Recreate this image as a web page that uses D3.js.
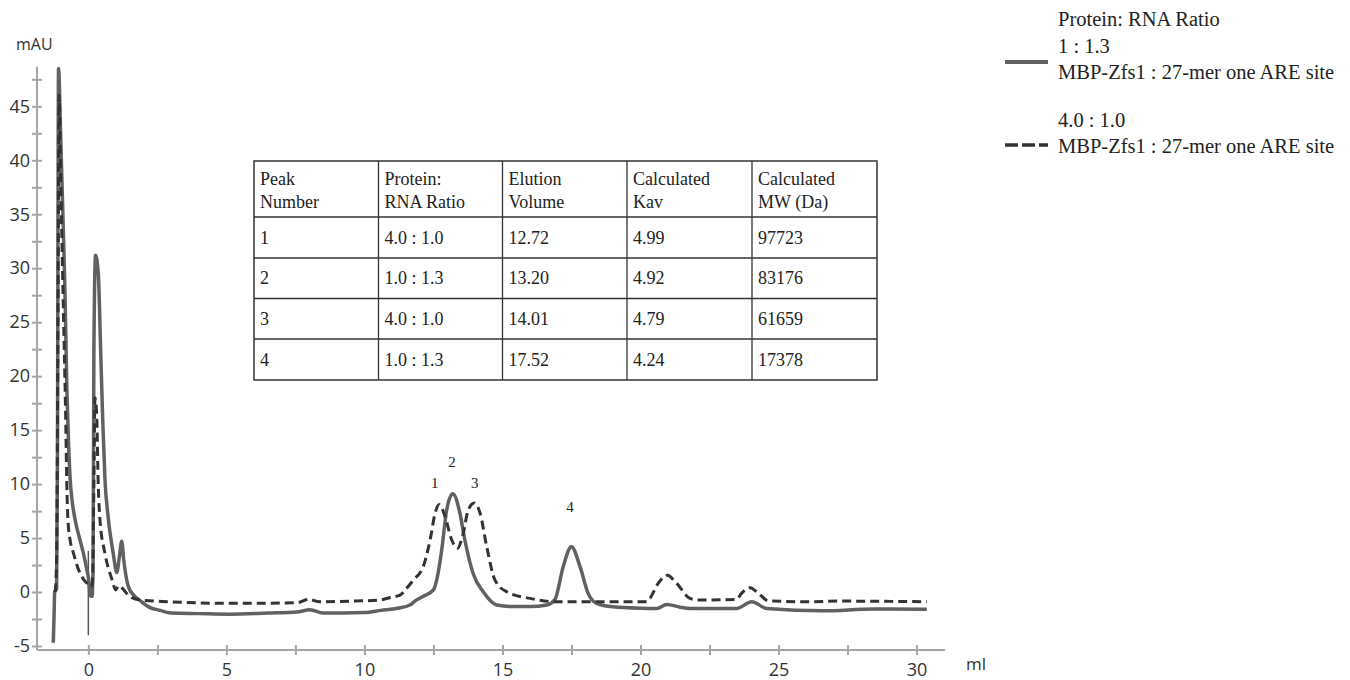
<!DOCTYPE html>
<html>
<head>
<meta charset="utf-8">
<script src="https://cdn.jsdelivr.net/npm/d3@7"></script>
<style>
  body { margin: 0; background: #fff; }
  svg { display: block; }
</style>
</head>
<body>
<svg id="chart" width="1350" height="680"></svg>
<script>
// ---------- DATA ----------
// Solid trace: 1 : 1.3  MBP-Zfs1 : 27-mer one ARE site  [ml, mAU]
const solidSeries = [
  [-1.27,-4.7],[-1.24,-2.0],[-1.22,0.0],[-1.15,0.3],[-1.12,12],[-1.08,48.5],[-1.0,42],
  [-0.9,33],[-0.84,27],[-0.78,19],[-0.72,14],[-0.66,10.5],[-0.58,8.3],[-0.48,6.7],[-0.3,4.8],
  [-0.18,3.6],[-0.05,2.0],[0.02,1.0],[0.06,-0.3],[0.13,-0.4],[0.17,2],[0.2,22],[0.26,31.2],
  [0.36,29.5],[0.45,22],[0.52,16],[0.6,10.5],[0.72,6.9],[0.9,3.6],[1.03,1.8],[1.12,3.2],
  [1.21,4.7],[1.28,3.0],[1.45,0.5],[1.65,-0.3],[1.93,-0.9],[2.2,-1.4],[2.6,-1.7],[3.0,-1.95],
  [4.0,-2.0],[5.1,-2.05],[6.5,-1.95],[7.55,-1.85],[8.03,-1.65],[8.5,-1.95],[10.0,-1.9],
  [10.6,-1.7],[11.2,-1.5],[11.65,-1.2],[11.85,-0.8],[12.13,-0.4],[12.5,0.2],[12.65,1.5],
  [12.8,3.9],[12.98,7.6],[13.2,9.1],[13.46,7.3],[13.64,4.8],[13.94,1.7],[14.31,0.0],
  [14.79,-1.2],[15.39,-1.35],[16.0,-1.35],[16.6,-1.2],[16.9,-0.7],[17.2,2.35],[17.5,4.2],
  [17.81,2.35],[18.1,-0.1],[18.41,-1.05],[19.0,-1.37],[20.0,-1.5],[20.59,-1.52],
  [20.95,-1.15],[21.43,-1.4],[21.8,-1.52],[23.48,-1.52],[24.03,-0.9],[24.57,-1.52],
  [26.62,-1.74],[28.43,-1.58],[30.37,-1.6]
];
// Dashed trace: 4.0 : 1.0  MBP-Zfs1 : 27-mer one ARE site  [ml, mAU]
const dashedSeries = [
  [-1.2,0.0],[-1.15,3],[-1.1,25],[-1.06,46],[-1.0,38],[-0.92,28],[-0.82,16],[-0.78,10],
  [-0.74,6.7],[-0.66,4.8],[-0.54,3.6],[-0.36,2.1],[-0.18,1.2],[0.0,0.7],[0.1,0.5],
  [0.15,1.0],[0.2,10],[0.24,18],[0.3,16.5],[0.36,9.8],[0.42,6.7],[0.6,3.6],[0.85,1.2],
  [0.99,0.2],[1.1,0.6],[1.25,0.3],[1.45,-0.3],[1.87,-0.74],[2.96,-0.9],[5.13,-1.05],
  [7.55,-0.99],[7.97,-0.68],[8.39,-0.9],[9.96,-0.81],[10.56,-0.74],[10.93,-0.5],
  [11.29,-0.28],[11.53,0.34],[11.77,1.1],[12.13,2.35],[12.38,4.84],[12.56,7.3],[12.71,8.1],
  [12.92,7.0],[13.16,4.84],[13.37,4.06],[13.58,5.46],[13.76,7.6],[13.98,8.25],[14.19,7.3],
  [14.43,4.2],[14.73,1.1],[15.15,0.03],[16.0,-0.59],[16.96,-0.9],[20.22,-0.9],[20.34,-0.59],
  [20.64,0.8],[20.97,1.55],[21.31,0.8],[21.79,-0.59],[22.09,-0.74],[23.48,-0.68],
  [23.66,-0.12],[23.97,0.4],[24.27,-0.12],[24.63,-0.81],[26.02,-0.9],[27.23,-0.84],[30.37,-0.9]
];
// Injection marker at 0 ml
const injectionMarker = [[0,-4.0],[0,3.8]];

// Peak labels [label, ml, mAU]
const peakLabels = [["1",12.55,9.6],["2",13.17,11.6],["3",14.0,9.6],["4",17.45,7.4]];

// Axis ticks
const xTicks = d3.range(0, 30.01, 2.5);
const xTickLabels = [0,5,10,15,20,25,30];
const yTicks = d3.range(-5, 47.51, 2.5);
const yTickLabels = [-5,0,5,10,15,20,25,30,35,40,45];

// Legend
const legendTitle = "Protein: RNA Ratio";
const legendRatios = ["1 : 1.3", "4.0 : 1.0"];
const legendNames = ["MBP-Zfs1 : 27-mer one ARE site", "MBP-Zfs1 : 27-mer one ARE site"];

// Table
const tableHeader = [["Peak","Number"],["Protein:","RNA Ratio"],["Elution","Volume"],["Calculated","Kav"],["Calculated","MW (Da)"]];
const peakNumbers = ["1","2","3","4"];
const peakRatios = ["4.0 : 1.0","1.0 : 1.3","4.0 : 1.0","1.0 : 1.3"];
const elutionVolumes = ["12.72","13.20","14.01","17.52"];
const calculatedKav = ["4.99","4.92","4.79","4.24"];
const calculatedMW = ["97723","83176","61659","17378"];

// ---------- CHART ----------
const svg = d3.select("#chart");
const x = d3.scaleLinear().domain([-1.86, 31.03]).range([37, 945]);
const y = d3.scaleLinear().domain([-5.37, 48.67]).range([650, 66.7]);

const axisColor = "#a6a6a6";
const labelFont = "'Open Sans', 'DejaVu Sans', sans-serif";
const serif = "'Liberation Serif', 'DejaVu Serif', serif";

// X axis
const gx = svg.append("g").attr("transform", `translate(0,${y.range()[0]})`)
  .call(d3.axisBottom(x).tickValues(xTicks).tickSize(5).tickPadding(8)
    .tickFormat(d => xTickLabels.includes(d) ? d : ""));
gx.select(".domain").attr("d", `M${x.range()[0]},0H${x.range()[1]}`).attr("stroke", axisColor).attr("stroke-width", 2);
gx.selectAll(".tick line").attr("y1", -5).attr("stroke", axisColor).attr("stroke-width", 2);
gx.selectAll(".tick text").attr("font-family", labelFont).attr("font-size", 18).attr("fill", "#333");

// Y axis
const gy = svg.append("g").attr("transform", `translate(${x.range()[0]},0)`)
  .call(d3.axisLeft(y).tickValues(yTicks).tickSize(5).tickPadding(2)
    .tickFormat(d => yTickLabels.includes(d) ? d : ""));
gy.select(".domain").attr("d", `M0,${y.range()[0]}V${y.range()[1]}`).attr("stroke", axisColor).attr("stroke-width", 2);
gy.selectAll(".tick line").attr("x1", 5).attr("stroke", axisColor).attr("stroke-width", 2);
gy.selectAll(".tick text").attr("font-family", labelFont).attr("font-size", 18).attr("fill", "#333");

svg.append("text").attr("x", 16).attr("y", 50).text("mAU")
  .attr("font-family", labelFont).attr("font-size", 16).attr("fill", "#333");
svg.append("text").attr("x", 966).attr("y", 670).text("ml")
  .attr("font-family", labelFont).attr("font-size", 17).attr("fill", "#333");

// Lines
const line = d3.line().x(d => x(d[0])).y(d => y(d[1])).curve(d3.curveMonotoneX);
const lineStraight = d3.line().x(d => x(d[0])).y(d => y(d[1]));

svg.append("path").datum(injectionMarker).attr("d", lineStraight)
  .attr("stroke", "#555").attr("stroke-width", 1.5).attr("fill", "none");

svg.append("path").datum(solidSeries).attr("d", line)
  .attr("fill", "none").attr("stroke", "#616161").attr("stroke-width", 3.5)
  .attr("stroke-linejoin", "round");

svg.append("path").datum(dashedSeries).attr("d", line)
  .attr("fill", "none").attr("stroke", "#333").attr("stroke-width", 3)
  .attr("stroke-dasharray", "9,5");

// Peak labels
svg.selectAll(".peaklab").data(peakLabels).join("text")
  .attr("x", d => x(d[1])).attr("y", d => y(d[2]))
  .attr("text-anchor", "middle").text(d => d[0])
  .attr("font-family", serif).attr("font-size", 15).attr("fill", "#222");

// Legend
const lg = svg.append("g").attr("font-family", serif).attr("font-size", 20.5).attr("fill", "#222");
lg.append("text").attr("x", 1058).attr("y", 26).text(legendTitle);
const legendY = [52.7, 126.7];
legendRatios.forEach((r, i) => {
  lg.append("text").attr("x", 1058).attr("y", legendY[i]).text(r);
  lg.append("text").attr("x", 1058).attr("y", legendY[i] + 26).text(legendNames[i]);
});
lg.append("line").attr("x1", 1005).attr("x2", 1048).attr("y1", 62).attr("y2", 62)
  .attr("stroke", "#616161").attr("stroke-width", 4);
lg.append("line").attr("x1", 1005).attr("x2", 1048).attr("y1", 145).attr("y2", 145)
  .attr("stroke", "#333").attr("stroke-width", 3.5).attr("stroke-dasharray", "13,4");

// Table
const colX = [254, 378.5, 502.5, 627, 752, 877];
const rowY = [161, 217, 258, 298.5, 339, 380];
const tg = svg.append("g");
tg.append("rect").attr("x", colX[0]).attr("y", rowY[0])
  .attr("width", colX[5]-colX[0]).attr("height", rowY[5]-rowY[0])
  .attr("fill", "#fff").attr("stroke", "#333").attr("stroke-width", 1.5);
colX.slice(1, 5).forEach(cx => tg.append("line").attr("x1", cx).attr("x2", cx)
  .attr("y1", rowY[0]).attr("y2", rowY[5]).attr("stroke", "#333").attr("stroke-width", 1.3));
rowY.slice(1, 5).forEach(ry => tg.append("line").attr("y1", ry).attr("y2", ry)
  .attr("x1", colX[0]).attr("x2", colX[5]).attr("stroke", "#333").attr("stroke-width", 1.3));
const tt = tg.append("g").attr("font-family", serif).attr("font-size", 18).attr("fill", "#222");
tableHeader.forEach((h, c) => {
  tt.append("text").attr("x", colX[c] + 6).attr("y", 185).text(h[0]);
  tt.append("text").attr("x", colX[c] + 6).attr("y", 208).text(h[1]);
});
const tableCols = [peakNumbers, peakRatios, elutionVolumes, calculatedKav, calculatedMW];
tableCols.forEach((col, c) => {
  col.forEach((v, r) => {
    tt.append("text").attr("x", colX[c] + 6)
      .attr("y", (rowY[r+1] + rowY[r+2]) / 2 + 6).text(v);
  });
});
</script>
</body>
</html>
